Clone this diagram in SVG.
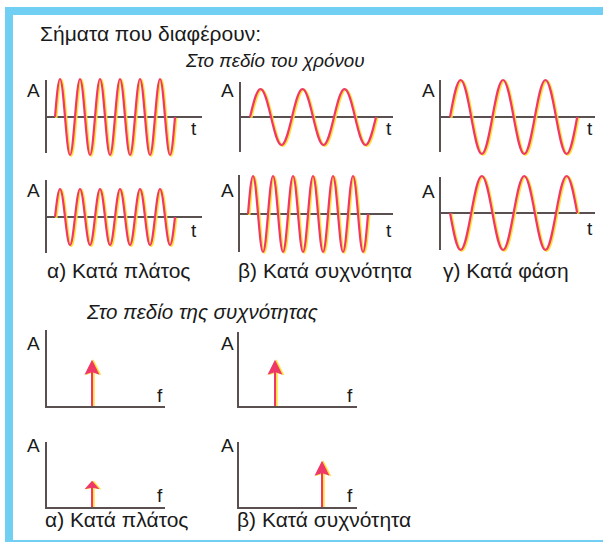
<svg xmlns="http://www.w3.org/2000/svg" xmlns:xlink="http://www.w3.org/1999/xlink" width="603" height="545" viewBox="0 0 603 545">
<style>
text{font-family:"Liberation Sans",Arial,sans-serif;fill:#1a1a1a}
.t{font-size:21px}
.ax{font-size:19px}
.it{font-style:italic}
.axis{stroke:#5a5050;stroke-width:2;fill:none}
.wy{fill:none;stroke:#ffe23a;stroke-width:2.6}
.wr{fill:none;stroke:#ee3868;stroke-width:2.2}
.ay{fill:#ffe23a;stroke:#ffe23a;stroke-width:2.4}
.ar{fill:#ee3868;stroke:#ee3868;stroke-width:2}
</style>
<defs>
<path id="w6" d="M0,0 c1.63,-19.47 3.19,-38 5,-38 s3.37,18.53 5,38 s3.19,38 5,38 s3.37,-18.53 5,-38 s3.19,-38 5,-38 s3.37,18.53 5,38 s3.19,38 5,38 s3.37,-18.53 5,-38 s3.19,-38 5,-38 s3.37,18.53 5,38 s3.19,38 5,38 s3.37,-18.53 5,-38 s3.19,-38 5,-38 s3.37,18.53 5,38 s3.19,38 5,38 s3.37,-18.53 5,-38 s3.19,-38 5,-38 s3.37,18.53 5,38 s3.19,38 5,38 s3.37,-18.53 5,-38 s3.19,-38 5,-38 s3.37,18.53 5,38 s3.19,38 5,38 s3.37,-18.53 5,-38"/>
<path id="w6s" d="M0,0 c1.63,-14.34 3.19,-28 5,-28 s3.37,13.66 5,28 s3.19,28 5,28 s3.37,-13.66 5,-28 s3.19,-28 5,-28 s3.37,13.66 5,28 s3.19,28 5,28 s3.37,-13.66 5,-28 s3.19,-28 5,-28 s3.37,13.66 5,28 s3.19,28 5,28 s3.37,-13.66 5,-28 s3.19,-28 5,-28 s3.37,13.66 5,28 s3.19,28 5,28 s3.37,-13.66 5,-28 s3.19,-28 5,-28 s3.37,13.66 5,28 s3.19,28 5,28 s3.37,-13.66 5,-28 s3.19,-28 5,-28 s3.37,13.66 5,28 s3.19,28 5,28 s3.37,-13.66 5,-28"/>
<path id="w3s" d="M0,0 c3.42,-14.34 6.70,-28 10.5,-28 s7.08,13.66 10.5,28 s6.70,28 10.5,28 s7.08,-13.66 10.5,-28 s6.70,-28 10.5,-28 s7.08,13.66 10.5,28 s6.70,28 10.5,28 s7.08,-13.66 10.5,-28 s6.70,-28 10.5,-28 s7.08,13.66 10.5,28 s6.70,28 10.5,28 s7.08,-13.66 10.5,-28"/>
<path id="w3" d="M0,0 c3.46,-18.96 6.76,-37 10.6,-37 s7.14,18.04 10.6,37 s6.76,37 10.6,37 s7.14,-18.04 10.6,-37 s6.76,-37 10.6,-37 s7.14,18.04 10.6,37 s6.76,37 10.6,37 s7.14,-18.04 10.6,-37 s6.76,-37 10.6,-37 s7.14,18.04 10.6,37 s6.76,37 10.6,37 s7.14,-18.04 10.6,-37"/>
<path id="w3i" d="M0,0 c3.46,18.96 6.76,37 10.6,37 s7.14,-18.04 10.6,-37 s6.76,-37 10.6,-37 s7.14,18.04 10.6,37 s6.76,37 10.6,37 s7.14,-18.04 10.6,-37 s6.76,-37 10.6,-37 s7.14,18.04 10.6,37 s6.76,37 10.6,37 s7.14,-18.04 10.6,-37 s6.76,-37 10.6,-37 s7.14,18.04 10.6,37"/>
<path id="arr" d="M0,0 L0,-34 M0,-44 L5.5,-33 L0,-35 L-5.5,-33 Z"/>
</defs>

<g id="frame">
<rect x="5" y="7" width="598" height="8" fill="#72cff4"/>
<rect x="5" y="7" width="8" height="534" fill="#72cff4"/>
<rect x="5" y="540" width="598" height="2" fill="#72cff4"/>
</g>

<g id="titles">
<text class="t" x="40" y="41">Σήματα που διαφέρουν:</text>
<text class="it" x="186" y="67" font-size="18.8">Στο πεδίο του χρόνου</text>
<text class="it" x="87" y="319" font-size="20.5">Στο πεδίο της συχνότητας</text>
</g>

<g id="t-amplitude-1">
<text class="ax" x="27" y="97">A</text>
<path class="axis" d="M46,80 V153 M46,117 H202"/>
<text class="ax" x="191" y="135">t</text>
<use xlink:href="#w6" class="wy" transform="translate(56.2,117.8)"/>
<use xlink:href="#w6" class="wr" transform="translate(55,117)"/>
</g>

<g id="t-frequency-1">
<text class="ax" x="221" y="97">A</text>
<path class="axis" d="M240,82 V152 M240,117 H393"/>
<text class="ax" x="386" y="135">t</text>
<use xlink:href="#w3s" class="wy" transform="translate(251.2,117.8)"/>
<use xlink:href="#w3s" class="wr" transform="translate(250,117)"/>
</g>

<g id="t-phase-1">
<text class="ax" x="422" y="97">A</text>
<path class="axis" d="M440,80 V152 M440,117 H595"/>
<text class="ax" x="587" y="135">t</text>
<use xlink:href="#w3" class="wy" transform="translate(451.2,117.8)"/>
<use xlink:href="#w3" class="wr" transform="translate(450,117)"/>
</g>

<g id="t-amplitude-2">
<text class="ax" x="27" y="197">A</text>
<path class="axis" d="M46,180 V253 M46,217 H202"/>
<text class="ax" x="191" y="237">t</text>
<use xlink:href="#w6s" class="wy" transform="translate(56.2,217.8)"/>
<use xlink:href="#w6s" class="wr" transform="translate(55,217)"/>
<text class="t" x="47" y="278">α) Κατά πλάτος</text>
</g>

<g id="t-frequency-2">
<text class="ax" x="221" y="197">A</text>
<path class="axis" d="M239,175 V252 M239,214 H393"/>
<text class="ax" x="386" y="237">t</text>
<use xlink:href="#w6" class="wy" transform="translate(249.2,214.8)"/>
<use xlink:href="#w6" class="wr" transform="translate(248,214)"/>
<text class="t" x="238" y="278">β) Κατά συχνότητα</text>
</g>

<g id="t-phase-2">
<text class="ax" x="422" y="198">A</text>
<path class="axis" d="M440,177 V250 M440,213 H595"/>
<text class="ax" x="587" y="235">t</text>
<use xlink:href="#w3i" class="wy" transform="translate(451.2,213.8)"/>
<use xlink:href="#w3i" class="wr" transform="translate(450,213)"/>
<text class="t" x="443" y="278">γ) Κατά φάση</text>
</g>

<g id="f-amplitude-1">
<text class="ax" x="27" y="350">A</text>
<path class="axis" d="M46,330 V407 H165"/>
<text class="ax" x="157" y="402">f</text>
<use xlink:href="#arr" class="ay" transform="translate(93.5,406)"/>
<use xlink:href="#arr" class="ar" transform="translate(92,406)"/>
</g>

<g id="f-frequency-1">
<text class="ax" x="221" y="350">A</text>
<path class="axis" d="M238,332 V407 H357"/>
<text class="ax" x="347" y="402">f</text>
<use xlink:href="#arr" class="ay" transform="translate(276.5,406)"/>
<use xlink:href="#arr" class="ar" transform="translate(275,406)"/>
</g>

<g id="f-amplitude-2">
<text class="ax" x="27" y="452">A</text>
<path class="axis" d="M46,442 V508 H165"/>
<text class="ax" x="157" y="502">f</text>
<use xlink:href="#arr" class="ay" transform="translate(93.5,507) scale(1,0.57)"/>
<use xlink:href="#arr" class="ar" transform="translate(92,507) scale(1,0.57)"/>
<text class="t" x="45" y="527">α) Κατά πλάτος</text>
</g>

<g id="f-frequency-2">
<text class="ax" x="221" y="452">A</text>
<path class="axis" d="M238,442 V508 H357"/>
<text class="ax" x="347" y="502">f</text>
<use xlink:href="#arr" class="ay" transform="translate(323.5,507)"/>
<use xlink:href="#arr" class="ar" transform="translate(322,507)"/>
<text class="t" x="237" y="527">β) Κατά συχνότητα</text>
</g>

<g id="connectors"></g>
</svg>
